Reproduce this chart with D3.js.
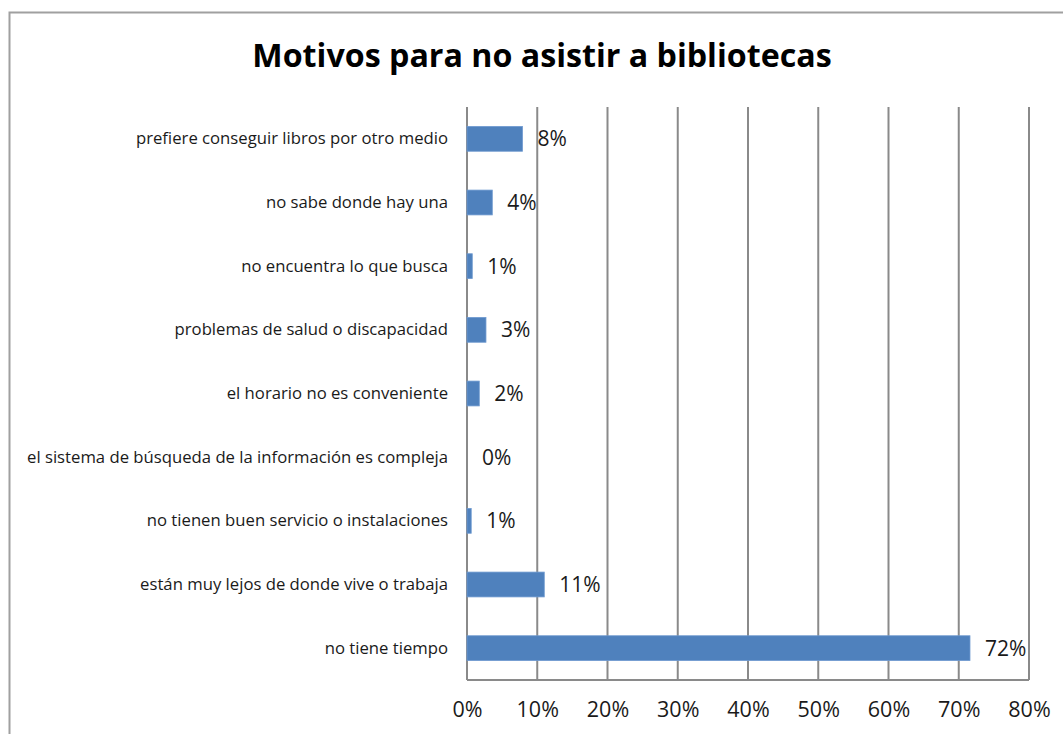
<!DOCTYPE html>
<html>
<head>
<meta charset="utf-8">
<script src="https://cdn.jsdelivr.net/npm/d3@7"></script>
<style>
  body { margin: 0; background: #fff; }
  text { font-family: "Open Sans", "Noto Sans", sans-serif; fill: #1a1a1a; }
</style>
</head>
<body>
<svg id="chart"></svg>
<script>
let width = 1063;
let height = 734;
let margin = {"top": 107, "bottom": 54, "left": 467, "right": 34};

// categories from top to bottom
const categories = [
    "prefiere conseguir libros por otro medio",
    "no sabe donde hay una",
    "no encuentra lo que busca",
    "problemas de salud o discapacidad",
    "el horario no es conveniente",
    "el sistema de búsqueda de la información es compleja",
    "no tienen buen servicio o instalaciones",
    "están muy lejos de donde vive o trabaja",
    "no tiene tiempo"
];
const values = [0.079, 0.036, 0.0075, 0.027, 0.0175, 0, 0.006, 0.110, 0.716];
const ticks = [0, 0.1, 0.2, 0.3, 0.4, 0.5, 0.6, 0.7, 0.8];

let svg = d3.select("#chart")
    .attr("width", width)
    .attr("height", height);

// outer frame (only top and left visible in the picture)
svg.append("path")
    .attr("d", `M9.5,${height} V12.5 H${width}`)
    .attr("fill", "none")
    .attr("stroke", "#a0a0a0")
    .attr("stroke-width", 2);

svg.append("text")
    .attr("x", 542)
    .attr("y", 67)
    .attr("text-anchor", "middle")
    .style("font-size", "32.2px")
    .style("font-weight", "bold")
    .style("fill", "#000")
    .text("Motivos para no asistir a bibliotecas");

let x = d3.scaleLinear()
    .domain([0, 0.8])
    .range([margin.left, width - margin.right]);

let y = d3.scaleBand()
    .domain(categories)
    .range([margin.top, height - margin.bottom])
    .paddingInner(0.61)
    .paddingOuter(0.305);

let g = svg.append("g");

// vertical gridlines
g.selectAll("line.grid")
    .data(ticks)
    .enter().append("line")
    .attr("class", "grid")
    .attr("x1", (d) => x(d))
    .attr("x2", (d) => x(d))
    .attr("y1", margin.top)
    .attr("y2", height - margin.bottom)
    .attr("stroke", "#8a8a8a")
    .attr("stroke-width", 2);

// bottom line of the plot
g.append("line")
    .attr("x1", x(0))
    .attr("x2", x(0.8))
    .attr("y1", height - margin.bottom)
    .attr("y2", height - margin.bottom)
    .attr("stroke", "#8a8a8a")
    .attr("stroke-width", 2);

let data = categories.map((c, i) => ({cat: c, value: values[i]}));

g.selectAll("rect")
    .data(data)
    .enter().append("rect")
    .attr("x", x(0))
    .attr("y", (d) => y(d.cat))
    .attr("width", (d) => x(d.value) - x(0))
    .attr("height", y.bandwidth())
    .style("fill", "#4f81bd")
    .style("stroke", "#6f9ad0")
    .style("stroke-width", 0.8);

let pct = d3.format(".0%");

g.selectAll("text.val")
    .data(data)
    .enter().append("text")
    .attr("class", "val")
    .attr("x", (d) => x(d.value) + 15)
    .attr("y", (d) => y(d.cat) + y.bandwidth() / 2)
    .attr("dy", "0.36em")
    .style("font-size", "21px")
    .text((d) => pct(d.value));

// category labels
let axisY = d3.axisLeft(y).tickSize(0).tickPadding(19);
svg.append("g")
    .attr("transform", `translate(${x(0)},0)`)
    .call(axisY)
    .call((s) => s.select(".domain").remove())
    .selectAll("text")
    .style("font-size", "16.7px")
    .style("font-family", "'Open Sans', sans-serif")
    .style("fill", "#1a1a1a");

// x tick labels
let axisX = d3.axisBottom(x).tickValues(ticks).tickFormat(pct).tickSize(0).tickPadding(22);
svg.append("g")
    .attr("transform", `translate(0,${height - margin.bottom})`)
    .call(axisX)
    .call((s) => s.select(".domain").remove())
    .selectAll("text")
    .style("font-size", "21.5px")
    .style("font-family", "'Open Sans', sans-serif")
    .style("fill", "#1a1a1a");
</script>
</body>
</html>
